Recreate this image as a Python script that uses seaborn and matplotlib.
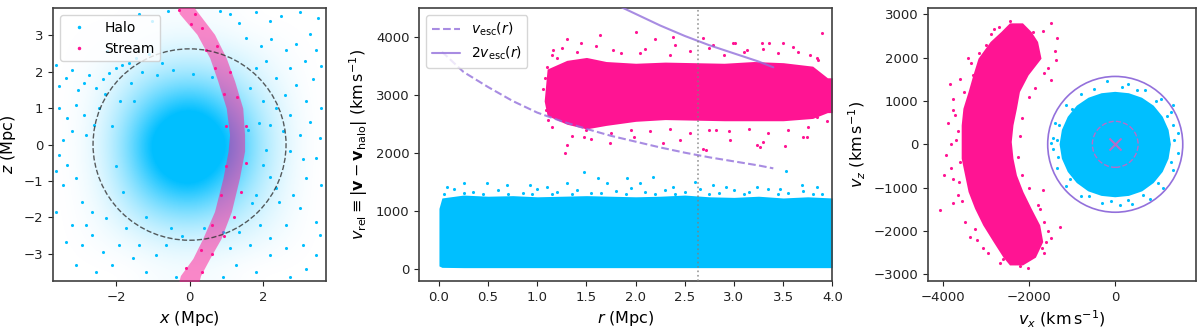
import matplotlib
matplotlib.use('Agg')
import numpy as np
import pandas as pd
import matplotlib.pyplot as plt
import seaborn as sns
from matplotlib.colors import LinearSegmentedColormap
from matplotlib.lines import Line2D
from matplotlib.patches import Circle

HALO = '#00bfff'
STREAM = '#ff1493'
PURPLE = 'mediumpurple'

# ---------------- panel 1 : positions (Mpc) ----------------
r_vir = 2.63
grid_pos = [-3.31, -2.48, -1.65, -0.83, 0.0, 0.83, 1.65, 2.48, 3.31]
# fraction of area covered by halo particles, rows from bottom (z=-3.31) to top
halo_cover = [
    [0.00, 0.00, 0.00, 0.02, 0.03, 0.02, 0.00, 0.00, 0.00],
    [0.00, 0.02, 0.06, 0.12, 0.14, 0.12, 0.08, 0.03, 0.00],
    [0.00, 0.04, 0.18, 0.36, 0.44, 0.34, 0.18, 0.06, 0.00],
    [0.00, 0.06, 0.30, 0.70, 0.92, 0.64, 0.30, 0.08, 0.00],
    [0.00, 0.07, 0.36, 0.92, 1.00, 0.90, 0.36, 0.10, 0.00],
    [0.00, 0.06, 0.28, 0.62, 0.84, 0.60, 0.28, 0.08, 0.00],
    [0.00, 0.04, 0.15, 0.30, 0.36, 0.30, 0.15, 0.05, 0.00],
    [0.00, 0.02, 0.05, 0.10, 0.12, 0.10, 0.06, 0.02, 0.00],
    [0.00, 0.00, 0.00, 0.02, 0.02, 0.02, 0.00, 0.00, 0.00],
]
halo_x = [-3.55, -3.37, -3.19, -3.05, -2.87, -2.74, -2.55, -2.37, -2.19, -2.01, -1.83, -1.65, -1.46,
          -3.55, -3.33, -3.10, -2.87, -2.83, -3.19, -3.46, -2.46, -2.60, -2.24, -1.10, -0.74, -0.46,
          -1.01, -1.37, -0.60, -3.65,
          0.82, 1.09, 1.36, 1.82, 2.18, 2.50, 3.00, 3.50, 1.55, 1.95, 2.23, 2.64, 2.91, 3.27, 3.45,
          2.09, 2.73, 3.14, 3.59, 2.36, 2.91, 3.36, 2.59, 3.18, 3.59, 2.73, 3.27, 3.00, 3.55, 1.82,
          1.64, 2.00, 2.36, 2.18, 2.55,
          -3.65, -3.46, -3.33, -3.55, -3.10, -2.92, -3.19, -3.37, -2.92, -2.65, -2.37, -2.55, -3.10,
          -1.92, -1.55, -2.10, -1.19, -0.92, -0.65, -1.74, -2.28, -2.65, -2.83, -0.37, -1.37, -3.65,
          2.09, 2.73, 3.09, 3.45, 3.59, 3.18, 2.82, 2.45, 3.00, 3.45, 2.64, 2.18, 1.91, 1.64, 2.18,
          2.64, 3.09, 3.45, 3.18, 2.73, 1.82, 1.27, 1.09, 1.36, 0.91, 3.55, 2.36, 1.82, 2.00,
          -1.90, -2.10, -2.00, -1.80, -1.20, -0.50, 0.40, 1.70, -1.60, -1.30, -0.90, 0.10, 0.60,
          1.90, 2.20, -2.30, -1.50, -0.20, 0.90, 1.60]
halo_z = [1.60, 1.83, 2.06, 1.51, 1.69, 1.92, 1.56, 1.79, 1.97, 2.11, 2.20, 2.25, 2.38,
          1.00, 0.73, 1.09, 0.82, 0.27, 0.36, 0.13, 1.00, 0.54, 2.57, 2.48, 2.25, 2.06,
          3.40, 3.58, 3.67, 2.20,
          3.67, 3.58, 3.35, 3.63, 3.40, 3.53, 3.63, 3.49, 2.94, 2.71, 2.89, 2.61, 2.75, 3.03, 2.61,
          2.29, 2.11, 2.29, 2.15, 1.83, 1.65, 1.79, 1.37, 1.19, 1.00, 0.82, 0.63, 0.27, 0.17, 2.11,
          1.56, 1.19, 1.00, 0.54, 0.36,
          -1.84, -1.10, -0.55, -0.28, -0.92, -1.57, -2.21, -2.67, -2.76, -2.49, -2.95, -3.50, -3.31,
          -2.76, -3.13, -3.31, -3.50, -3.04, -2.76, -2.30, -2.03, -1.84, -2.21, -3.64, -2.76, -0.74,
          -0.14, -0.18, -0.41, -0.37, -1.10, -0.92, -1.38, -1.57, -1.75, -2.12, -2.21, -2.58, -2.21, -2.76, -3.04,
          -2.85, -2.76, -3.04, -3.41, -3.64, -3.50, -3.31, -2.85, -2.39, -3.64, -2.49, -1.20, -1.38, -0.55,
          1.20, 0.50, -0.60, -1.30, -2.00, -2.30, -2.30, -1.60, 1.70, 2.00, 1.90, 1.95, 1.85,
          0.60, -0.90, 1.40, 1.20, -2.50, -2.40, 0.40]
arc_z = [3.80, 3.60, 3.03, 2.38, 1.74, 1.00, 0.27, -0.18, -0.92, -1.84, -2.58, -3.13, -3.60, -3.80]
arc_left = [-0.32, -0.28, 0.20, 0.55, 0.77, 1.00, 1.09, 1.05, 0.91, 0.68, 0.36, 0.09, -0.25, -0.30]
arc_right = [0.10, 0.25, 0.68, 1.00, 1.23, 1.45, 1.50, 1.50, 1.36, 1.14, 0.86, 0.55, 0.30, 0.25]
stream_x = [0.05, 0.35, 0.75, 0.45, 1.10, 0.70, 1.30, 0.95, 1.55, 1.00, 1.55, 1.00, 1.40, 0.85,
            1.20, 0.60, 0.95, 0.30, 0.60, -0.10, 0.35, -0.30, 0.15]
stream_z = [3.30, 3.20, 2.70, 2.60, 2.00, 2.10, 1.30, 1.40, 0.50, 0.50, -0.50, -0.60, -1.30, -1.40,
            -2.00, -2.20, -2.50, -2.90, -3.00, -3.40, -3.50, 3.70, 3.60]

# ---------------- panel 2 : r vs v_rel ----------------
r_halo = [0.0, 0.03, 0.25, 0.5, 0.75, 1.0, 1.25, 1.5, 1.75, 2.0, 2.25, 2.5, 2.75, 3.0, 3.25, 3.5, 3.75, 4.0]
halo_top = [1050, 1230, 1280, 1260, 1270, 1250, 1260, 1270, 1260, 1250, 1260, 1280, 1250, 1240, 1260, 1230, 1250, 1230]
halo_bot = [60, 35, 30, 30, 30, 30, 30, 30, 30, 30, 30, 30, 30, 30, 30, 30, 30, 30]
fringe_r = [1.47, 3.53, 0.25, 0.93, 1.62, 1.91, 2.18, 2.60, 3.69, 3.23, 0.49, 1.30, 1.71, 2.38, 2.92,
            3.47, 3.84, 0.08, 0.69, 1.10, 2.04, 2.79,
            0.15, 0.35, 0.60, 0.85, 1.00, 1.20, 1.40, 1.55, 1.80, 1.95, 2.10, 2.30, 2.50, 2.65, 2.85,
            3.00, 3.15, 3.35, 3.55, 3.70, 3.90,
            0.05, 0.25, 0.45, 0.70, 0.95, 1.15, 1.35, 1.65, 1.90, 2.20, 2.40, 2.75, 3.10, 3.45, 3.80]
fringe_v = [1683, 1698, 1493, 1453, 1569, 1569, 1586, 1510, 1453, 1424, 1483, 1483, 1493, 1424, 1424,
            1379, 1424, 1424, 1453, 1424, 1483, 1453,
            1380, 1330, 1360, 1320, 1390, 1340, 1370, 1310, 1350, 1400, 1330, 1370, 1340, 1390, 1320,
            1360, 1330, 1380, 1320, 1350, 1300,
            1300, 1310, 1300, 1295, 1305, 1300, 1290, 1310, 1300, 1295, 1305, 1300, 1290, 1300, 1295]
r_stream = [1.07, 1.10, 1.30, 1.50, 1.70, 2.00, 2.30, 2.60, 2.90, 3.20, 3.50, 3.80, 3.95, 4.00]
stream_top = [2900, 3450, 3600, 3650, 3580, 3550, 3570, 3560, 3550, 3580, 3560, 3500, 3300, 3300]
stream_bot = [2900, 2650, 2500, 2420, 2480, 2550, 2580, 2570, 2560, 2560, 2560, 2600, 2700, 2700]
spray_r = [1.28, 1.64, 2.00, 1.30, 1.16, 1.44, 2.20, 2.38, 2.69, 3.23, 3.52, 2.79, 2.99, 3.36, 3.60,
           3.84, 3.84, 1.30, 1.47, 1.74, 1.98, 2.28, 2.96, 3.30, 3.70, 2.45, 1.11, 1.10, 1.20, 1.77,
           2.04, 3.13, 3.77, 3.80, 2.69, 3.01, 3.29, 3.89, 3.50, 2.40, 3.26, 2.72, 2.82, 3.74, 1.50,
           1.15, 1.25, 1.40, 1.60, 1.85, 2.10, 2.35, 2.55, 2.75, 2.90, 3.10, 3.30, 3.45, 3.65, 3.85,
           1.15, 1.35, 1.55, 1.75, 1.95, 2.15, 2.35, 2.55, 2.75, 2.95, 3.15, 3.35, 3.55, 3.75, 3.95,
           1.08, 1.06, 1.09]
spray_v = [2000, 4040, 4086, 3966, 3781, 3897, 3966, 4010, 2069, 2143, 2126, 3867, 3907, 3897, 3838,
           3638, 2631, 2143, 2286, 2172, 2286, 2172, 2229, 2200, 2286, 2229, 2574, 3493, 3638, 3781,
           3724, 3781, 3695, 2919, 3983, 3907, 3897, 4069, 3897, 3867, 2114, 2057, 2402, 2286, 2402,
           3700, 3820, 3750, 3850, 3720, 3800, 3700, 3760, 3820, 3700, 3750, 3800, 3720, 3750, 3600,
           2450, 2300, 2250, 2350, 2400, 2380, 2420, 2350, 2400, 2380, 2420, 2350, 2400, 2450, 2550,
           3300, 3100, 2750]
r_esc = [0.03, 0.25, 0.5, 0.75, 1.0, 1.25, 1.5, 1.75, 2.0, 2.25, 2.5, 2.75, 3.0, 3.25, 3.4]
v_esc = [3750, 3400, 3140, 2900, 2700, 2550, 2420, 2300, 2200, 2100, 2010, 1930, 1860, 1790, 1740]

# ---------------- panel 3 : vx vs vz ----------------
disk_vx = [1290, 1236, 1100, 891, 620, 316, 0, -316, -620, -891, -1100, -1236,
           -1290, -1236, -1100, -891, -625, -318, 0, 318, 625, 891, 1100, 1236]
disk_vz = [0, 332, 635, 891, 1074, 1178, 1210, 1178, 1074, 891, 635, 332,
           0, -332, -635, -891, -1083, -1188, -1220, -1188, -1083, -891, -635, -332]
disk_fx = [-200, 300, 700, -800, -1150, -1400, -1450, -1450, -1350, -1150, -800, -300, 100, 400, 800,
           1100, 1350, 1450, 1450, 1300, 1050, 1350, -1500,
           -500, 150, 500, 950, -1000, -1300, -1350, -1330, -1050, -600, -100, 300, 650, 1000, 1300, 1360, 1350, 1200]
disk_fz = [1450, 1400, 1250, 1150, 900, 500, 150, -100, -550, -950, -1200, -1350, -1400, -1380, -1250,
           -1000, -600, -200, 250, 750, 1050, 900, 20,
           1280, 1330, 1250, 1000, 820, 450, 100, -300, -800, -1180, -1300, -1290, -1170, -900, -400, 100, 450, 650]
cres_vz = [2800, 2600, 2370, 1985, 1600, 1217, 832, 447, 65, -320, -705, -1088, -1473, -1858, -2241, -2600, -2780]
cres_left = [-2450, -2650, -2900, -3180, -3300, -3410, -3530, -3570, -3570, -3570, -3490, -3410, -3260, -3070, -2830, -2600, -2450]
cres_right = [-2150, -1950, -1800, -1720, -2020, -2220, -2290, -2370, -2410, -2370, -2290, -2140, -1950, -1750, -1680, -1850, -2150]
cres_fx = [-2450, -1500, -2870, -1680, -3410, -3340, -1400, -1370, -1480, -3840, -3760, -3720, -3880, -3920,
           -3970, -3800, -4050, -3760, -3650, -3490, -3370, -2950, -2680, -2330, -2020, -1640, -1480, -1290,
           -1680, -1790, -1600, -3260, -3070, -3610, -3690, -1350,
           -3650, -3600, -3500, -3300, -3000, -2700, -2100, -1550, -1650, -1850, -2000, -2150, -2200, -2250,
           -2150, -2000, -1750, -1650, -1550, -1700, -2200, -2600, -3200, -3550, -3750, -3800, -3750, -3600,
           -3150, -2800, -2300, -1900]
cres_fz = [2850, 2790, 2540, 2610, 1990, 1870, 2140, 1950, 1490, 1390, 1050, 680, 490, -240,
           -700, -550, -1510, -1360, -1170, -1780, -2130, -2510, -2740, -2740, -2860, -2510, -2170, -1900,
           -1050, -1400, -2240, -1940, -2400, -860, 100, 2460,
           300, -400, 1200, 1600, 2300, 2700, 2500, 1750, 1650, 1300, 1100, 600, 200, -300,
           -700, -1000, -1500, -1800, -2000, -2400, -2800, -2650, -2200, -1300, -800, 0, 800, 1500,
           2100, 2650, 2750, 2600]
v_circle = 1565
v_inner = 530

sns.set_style("ticks")
plt.rcParams['font.family'] = ['DejaVu Sans']
plt.rcParams['axes.edgecolor'] = '#404040'
plt.rcParams['axes.linewidth'] = 1.2
plt.rcParams['xtick.color'] = '#222222'
plt.rcParams['ytick.color'] = '#222222'
plt.rcParams['xtick.labelsize'] = 9.5
plt.rcParams['ytick.labelsize'] = 9.5
plt.rcParams['axes.labelsize'] = 11.5
plt.rcParams['text.color'] = 'black'
plt.rcParams['axes.labelcolor'] = 'black'

fig = plt.figure(figsize=(12, 3.28), dpi=100)
ax1 = fig.add_axes([0.0442, 0.1433, 0.2275, 0.832])
ax2 = fig.add_axes([0.3494, 0.1433, 0.3442, 0.832])
ax3 = fig.add_axes([0.7733, 0.1433, 0.2233, 0.832])

pt = dict(s=5, linewidth=0, legend=False)

# panel 1
cmap = LinearSegmentedColormap.from_list('halo', ['white', HALO])
half = (grid_pos[1] - grid_pos[0]) / 2
ax1.imshow(np.array(halo_cover), origin='lower', cmap=cmap, vmin=0, vmax=0.7,
           extent=[grid_pos[0] - half, grid_pos[-1] + half, grid_pos[0] - half, grid_pos[-1] + half],
           interpolation='bicubic', aspect='auto', zorder=0)
sns.scatterplot(x=halo_x, y=halo_z, color=HALO, ax=ax1, zorder=2, **pt)
ax1.fill_betweenx(arc_z, arc_left, arc_right, color=STREAM, alpha=0.5, lw=0, zorder=3)
sns.scatterplot(x=stream_x, y=stream_z, color=STREAM, ax=ax1, zorder=3, **pt)
ax1.add_patch(Circle((0, 0), r_vir, fill=False, ec='#333333', ls='--', lw=1.0, alpha=0.8, zorder=4))
ax1.set_xlim(-3.72, 3.72)
ax1.set_ylim(-3.75, 3.75)
ax1.set_xticks([-2, 0, 2])
ax1.set_yticks([-3, -2, -1, 0, 1, 2, 3])
ax1.set_xlabel('$x$ (Mpc)')
ax1.set_ylabel('$z$ (Mpc)')
h1 = [Line2D([], [], marker='.', ls='', color=HALO, markersize=3),
      Line2D([], [], marker='.', ls='', color=STREAM, markersize=3)]
ax1.legend(h1, ['Halo', 'Stream'], loc='upper left', fontsize=10)

# panel 2
ax2.fill_between(r_halo, halo_bot, halo_top, color=HALO, lw=0, zorder=1)
sns.scatterplot(x=fringe_r, y=fringe_v, color=HALO, ax=ax2, zorder=1, **pt)
ax2.fill_between(r_stream, stream_bot, stream_top, color=STREAM, lw=0, zorder=2)
sns.scatterplot(x=spray_r, y=spray_v, color=STREAM, ax=ax2, zorder=2, **pt)
esc = pd.DataFrame({'r': r_esc, 'v': v_esc})
sns.lineplot(data=esc, x='r', y='v', ax=ax2, color=PURPLE, ls='--', lw=1.5, alpha=0.8, zorder=3)
sns.lineplot(x=esc['r'], y=2 * esc['v'], ax=ax2, color=PURPLE, lw=1.5, alpha=0.8, zorder=3)
ax2.axvline(r_vir, color='grey', ls=':', lw=1.2, alpha=0.8, zorder=4)
ax2.set_xlim(-0.2, 4.0)
ax2.set_ylim(-200, 4500)
ax2.set_xticks(np.arange(0, 4.01, 0.5))
ax2.set_yticks([0, 1000, 2000, 3000, 4000])
ax2.set_xlabel('$r$ (Mpc)')
ax2.set_ylabel(r'$v_{\rm rel} \equiv |\mathbf{v}-\mathbf{v}_{\rm halo}|$ (km$\,$s$^{-1}$)')
h2 = [Line2D([], [], color=PURPLE, ls='--', lw=1.5, alpha=0.8),
      Line2D([], [], color=PURPLE, lw=1.5, alpha=0.8)]
ax2.legend(h2, [r'$v_{\rm esc}(r)$', r'$2v_{\rm esc}(r)$'], loc='upper left', fontsize=10)

# panel 3
ax3.fill(disk_vx, disk_vz, color=HALO, lw=0, zorder=1)
sns.scatterplot(x=disk_fx, y=disk_fz, color=HALO, ax=ax3, zorder=1, **pt)
ax3.fill_betweenx(cres_vz, cres_left, cres_right, color=STREAM, lw=0, zorder=2)
sns.scatterplot(x=cres_fx, y=cres_fz, color=STREAM, ax=ax3, zorder=2, **pt)
ax3.add_patch(Circle((0, 0), v_circle, fill=False, ec=PURPLE, lw=1.2, zorder=3))
ax3.add_patch(Circle((0, 0), v_inner, fill=False, ec='#b86cc8', ls='--', lw=1.0, zorder=3))
ax3.scatter([0], [0], marker='x', s=75, color='#b86cc8', lw=1.5, zorder=4)
ax3.set_xlim(-4340, 1870)
ax3.set_ylim(-3150, 3140)
ax3.set_xticks([-4000, -2000, 0])
ax3.set_yticks([-3000, -2000, -1000, 0, 1000, 2000, 3000])
ax3.set_xlabel(r'$v_x$ (km$\,$s$^{-1}$)')
ax3.set_ylabel(r'$v_z$ (km$\,$s$^{-1}$)')

fig.savefig('out.png', dpi=100)
plt.close(fig)
